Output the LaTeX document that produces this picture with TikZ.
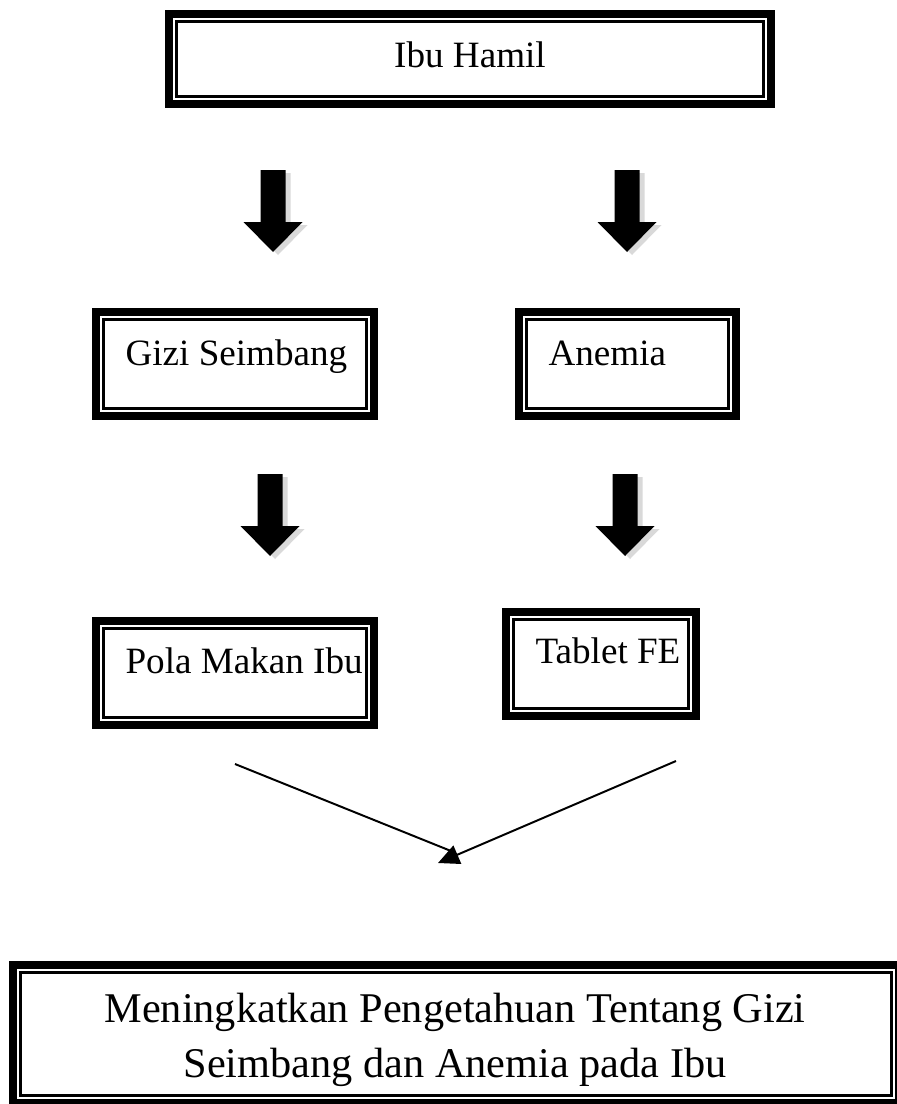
\documentclass[tikz,border=0pt]{standalone}
\usepackage{fontspec}
\setmainfont{Liberation Serif}
\usetikzlibrary{arrows.meta,positioning,fit,calc}

\begin{document}
\begin{tikzpicture}[x=0.025cm,y=-0.025cm,thick,
  box node/.style={draw,line width=5.3pt,inner sep=0pt,
    path picture={\draw[line width=1.8pt]
      ([shift={(5.3pt,-5.3pt)}]path picture bounding box.north west) rectangle
      ([shift={(-5.3pt,5.3pt)}]path picture bounding box.south east);}},
  box text/.style={inner sep=0pt,anchor=base west,font=\fontsize{26.4}{32}\selectfont},
  down arrow/.pic={
    \fill[black!15] (-7.5,3) -- (17.5,3) -- (17.5,55) -- (34.5,55) -- (5,85) -- (-24.5,55) -- (-7.5,55) -- cycle;
    \fill (-12.5,0) -- (12.5,0) -- (12.5,52) -- (29.5,52) -- (0,82) -- (-29.5,52) -- (-12.5,52) -- cycle;}]
\useasboundingbox (0,0) rectangle (896,1104);
\fill[white] (0,0) rectangle (896,1104);
% boxes
\node[box node,fit={(169,14) (771,104)}] (vHamil) {};
\node[box node,fit={(96,312) (374,416)}] (vGizi) {};
\node[box node,fit={(519,312) (736,416)}] (vAnemia) {};
\node[box node,fit={(96,621) (374,725)}] (vPola) {};
\node[box node,fit={(506,612) (696,716)}] (vFe) {};
\node[box node,fit={(13,965) (899,1103)}] (vHasil) {};
% texts
\node[box text,anchor=base] (tHamil) at (470,68) {Ibu Hamil};
\node[box text] (tGizi) at (125,365) {Gizi Seimbang};
\node[box text] (tAnemia) at (548,365) {Anemia};
\node[box text] (tPola) at (125,673) {Pola Makan Ibu};
\node[box text] (tFe) at (535,663) {Tablet FE};
\node[box text,anchor=center,align=center,font=\fontsize{30.1}{39.1}\selectfont] (tHasil) at (455,1040)
  {Meningkatkan Pengetahuan Tentang Gizi\\Seimbang dan Anemia pada Ibu};
% block arrows
\pic (pA1) at (273,170) {down arrow};
\pic (pA2) at (627,170) {down arrow};
\pic (pA3) at (270,474) {down arrow};
\pic (pA4) at (625,474) {down arrow};
% joining lines
\coordinate (sL) at (235,764);
\coordinate (sR) at (676,761);
\coordinate (meet) at (451,851);
\coordinate (tip) at (438,863);
\draw[line width=1.4pt] (sL) -- (meet);
\draw[line width=1.4pt,-{Triangle[length=15pt,width=14pt]}] (sR) -- (tip);
\end{tikzpicture}
\end{document}
